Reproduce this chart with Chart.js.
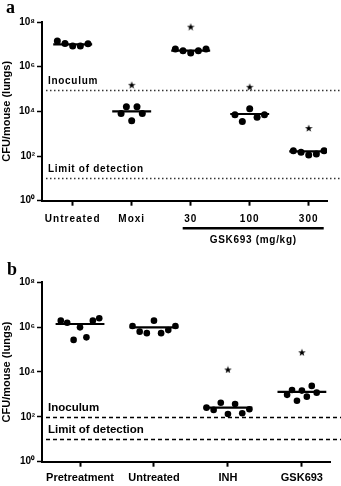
<!DOCTYPE html>
<html><head><meta charset="utf-8">
<script src="https://cdn.jsdelivr.net/npm/chart.js@4/dist/chart.umd.min.js"></script>
<style>
html,body{margin:0;padding:0;background:#fff;width:341px;height:486px;overflow:hidden}
#wa{position:absolute;left:0;top:0;width:341px;height:250px}
#wb{position:absolute;left:0;top:250px;width:341px;height:236px}
</style></head><body>
<div id="wa"><canvas id="ca"></canvas></div>
<div id="wb"><canvas id="cb"></canvas></div>
<script>
// ---------- data: panel a ----------
const catsA = ['Untreated', 'Moxi', '30', '100', '300'];
const aUntreated = [1.4e7, 1.1e7, 8.5e6, 8.5e6, 1.07e7];
const aMoxi      = [8.1e3, 1.6e4, 3.8e3, 1.6e4, 8.1e3];
const aGsk30     = [6.2e6, 5.2e6, 4.1e6, 5.2e6, 6.2e6];
const aGsk100    = [7.1e3, 3.5e3, 1.3e4, 5.4e3, 7.1e3];
const aGsk300    = [174, 148, 112, 123, 174];
const aCentre    = [1.0e7, 1.0e4, 5.2e6, 7.6e3, 160];
const aStars     = [null, 1.55e5, 6.2e7, 1.26e5, 1.8e3];
const aInoculum  = 9e4;
const aLimit     = 10;

// ---------- data: panel b ----------
const catsB = ['Pretreatment', 'Untreated', 'INH', 'GSK693'];
const bPre       = [1.95e6, 1.58e6, 2.7e5, 9.8e5, 3.5e5, 1.95e6, 2.5e6];
const bUntreated = [1.12e6, 6.3e5, 5.4e5, 1.95e6, 5.4e5, 7.4e5, 1.12e6];
const bINH       = [257, 204, 427, 135, 372, 145, 219];
const bGSK       = [955, 1585, 525, 1480, 794, 2400, 1200];
const bCentre    = [1.38e6, 9.8e5, 257, 1290];
const bStars     = [null, null, 1.3e4, 7.6e4];
const bInoculum  = 100;
const bLimit     = 10;

// ---------- shared tick labels ----------
const yTickValues = [1, 1e2, 1e4, 1e6, 1e8];
const yTickLabels = ['10\u2070', '10\u00B2', '10\u2074', '10\u2076', '10\u2078'];

// ---------- style / layout ----------
const spreadA = [0.26, 0.18, 0.26, 0.25, 0.26];
const spreadB = [0.26, 0.29, 0.29, 0.20];
const FONT = '"Liberation Sans", Arial, sans-serif';
Chart.defaults.font.family = FONT;
Chart.defaults.color = '#000';

function starImage(size){
  const c = document.createElement('canvas');
  c.width = c.height = size;
  const g = c.getContext('2d');
  g.fillStyle = '#000';
  g.beginPath();
  for (let k = 0; k < 10; k++) {
    const r = k % 2 ? size * 0.2 : size / 2;
    const a = -Math.PI / 2 + k * Math.PI / 5;
    g.lineTo(size / 2 + r * Math.cos(a), size / 2 + 0.5 + r * Math.sin(a));
  }
  g.closePath(); g.fill();
  return c;
}
const STAR = starImage(8);

function groupDatasets(groups, centres, stars, spread, radius, half){
  const ds = [];
  groups.forEach((vals, i) => {
    const n = vals.length;
    ds.push({data: vals.map((v, k) => ({x: i + (k / (n - 1) * 2 - 1) * spread[i], y: v})),
      pointRadius: radius, pointHoverRadius: radius, backgroundColor: '#000', borderColor: '#000', borderWidth: 0, showLine: false});
    ds.push({data: [{x: i - half, y: centres[i]}, {x: i + half, y: centres[i]}],
      showLine: true, borderColor: '#000', borderWidth: 2.2, pointRadius: 0, pointHoverRadius: 0});
    if (stars[i] != null) ds.push({data: [{x: i, y: stars[i]}], pointStyle: STAR, pointRadius: 4, showLine: false});
  });
  return ds;
}

function build(canvas, p){
  const refPlugin = {
    id: 'refs',
    beforeDatasetsDraw(chart){
      const {ctx, scales: {y}, chartArea} = chart;
      ctx.save();
      ctx.strokeStyle = p.refColor; ctx.lineWidth = p.refWidth; ctx.setLineDash(p.dash);
      [p.inoculum, p.limit].forEach(v => {
        const yy = Math.round(y.getPixelForValue(v)) + 0.5;
        ctx.beginPath(); ctx.moveTo(chartArea.left + 4, yy); ctx.lineTo(341, yy); ctx.stroke();
      });
      ctx.restore();
    },
    afterDraw(chart){
      const {ctx, scales: {x, y}, chartArea} = chart;
      ctx.save();
      ctx.fillStyle = '#000';
      ctx.font = 'bold 18px "Liberation Serif", "Times New Roman", serif';
      ctx.textBaseline = 'alphabetic'; ctx.textAlign = 'left';
      ctx.fillText(p.letter, p.letterX, p.letterY);
      ctx.letterSpacing = p.spacing;
      ctx.font = p.refFont;
      ctx.textBaseline = 'middle';
      ctx.fillText('Inoculum', chartArea.left + 6, y.getPixelForValue(p.inoculum) - 9);
      ctx.fillText('Limit of detection', chartArea.left + 6, y.getPixelForValue(p.limit) - 9);
      if (p.bracket) {
        const x0 = x.getPixelForValue(p.bracket[0]) - 8, x1 = x.getPixelForValue(p.bracket[1]) + 15;
        ctx.fillRect(x0, 227, x1 - x0, 2.5);
        ctx.textAlign = 'center';
        ctx.fillText(p.bracketText, (x0 + x1) / 2, 240);
      }
      ctx.restore();
    }
  };
  const chart = new Chart(canvas, {
    type: 'scatter',
    data: {datasets: p.datasets},
    options: {
      responsive: true, maintainAspectRatio: false, animation: false, devicePixelRatio: 1,
      layout: {padding: {top: p.top, right: p.right, left: 0, bottom: 0}},
      plugins: {legend: {display: false}, tooltip: {enabled: false}},
      scales: {
        x: {
          type: 'linear', min: p.xmin, max: p.xmax,
          afterBuildTicks: s => { s.ticks = p.cats.map((_, i) => ({value: i})); },
          afterFit: s => { s.height = p.xHeight; },
          ticks: {callback: v => p.cats[v], autoSkip: false, maxRotation: 0, padding: p.xPad,
                  font: {weight: 'bold', size: p.xFont}, color: '#000'},
          grid: {display: true, drawOnChartArea: false, drawTicks: true, tickLength: 5, tickWidth: 2, tickColor: '#000'},
          border: {display: true, color: '#000', width: 2}
        },
        y: {
          type: 'logarithmic', min: 1, max: 1e8,
          afterBuildTicks: s => { s.ticks = yTickValues.map(v => ({value: v})); },
          afterFit: s => { s.width = 42; },
          ticks: {callback: (v, i) => yTickLabels[i], autoSkip: false, padding: 2,
                  font: {weight: 'bold', size: 10}, color: '#000'},
          grid: {display: true, drawOnChartArea: false, drawTicks: true, tickLength: 5, tickWidth: 1.5, tickColor: '#000'},
          border: {display: true, color: '#000', width: 2},
          title: {display: true, text: 'CFU/mouse (lungs)', padding: 0, color: '#000', font: {weight: 'bold', size: 11}}
        }
      }
    },
    plugins: [refPlugin]
  });
  if (p.xSpacing) {
    const xs = chart.scales.x;
    const orig = xs.drawLabels.bind(xs);
    xs.drawLabels = function(area){ const c = chart.ctx; c.save(); c.letterSpacing = p.xSpacing; orig(area); c.restore(); };
    chart.draw();
  }
  return chart;
}

build(document.getElementById('ca'), {
  cats: catsA,
  datasets: groupDatasets([aUntreated, aMoxi, aGsk30, aGsk100, aGsk300], aCentre, aStars, spreadA, 3.5, 0.33),
  inoculum: aInoculum, limit: aLimit,
  xmin: -0.52, xmax: 4.31, top: 22, right: 14, xHeight: 49.3, xPad: 8, xFont: 10, xSpacing: '1px',
  refColor: '#333', refWidth: 1.5, dash: [1.5, 2.5],
  refFont: 'bold 10px ' + FONT, spacing: '0.7px',
  letter: 'a', letterX: 6, letterY: 13,
  bracket: [2, 4], bracketText: 'GSK693 (mg/kg)'
});

build(document.getElementById('cb'), {
  cats: catsB,
  datasets: groupDatasets([bPre, bUntreated, bINH, bGSK], bCentre, bStars, spreadB, 3.3, 0.33),
  inoculum: bInoculum, limit: bLimit,
  xmin: -0.514, xmax: 3.38, top: 32.3, right: 11, xHeight: 24.3, xPad: 5, xFont: 11, xSpacing: null,
  refColor: '#000', refWidth: 1.5, dash: [4, 3],
  refFont: 'bold 11.5px ' + FONT, spacing: '0px',
  letter: 'b', letterX: 7, letterY: 25,
  bracket: null
});
</script>
</body></html>
